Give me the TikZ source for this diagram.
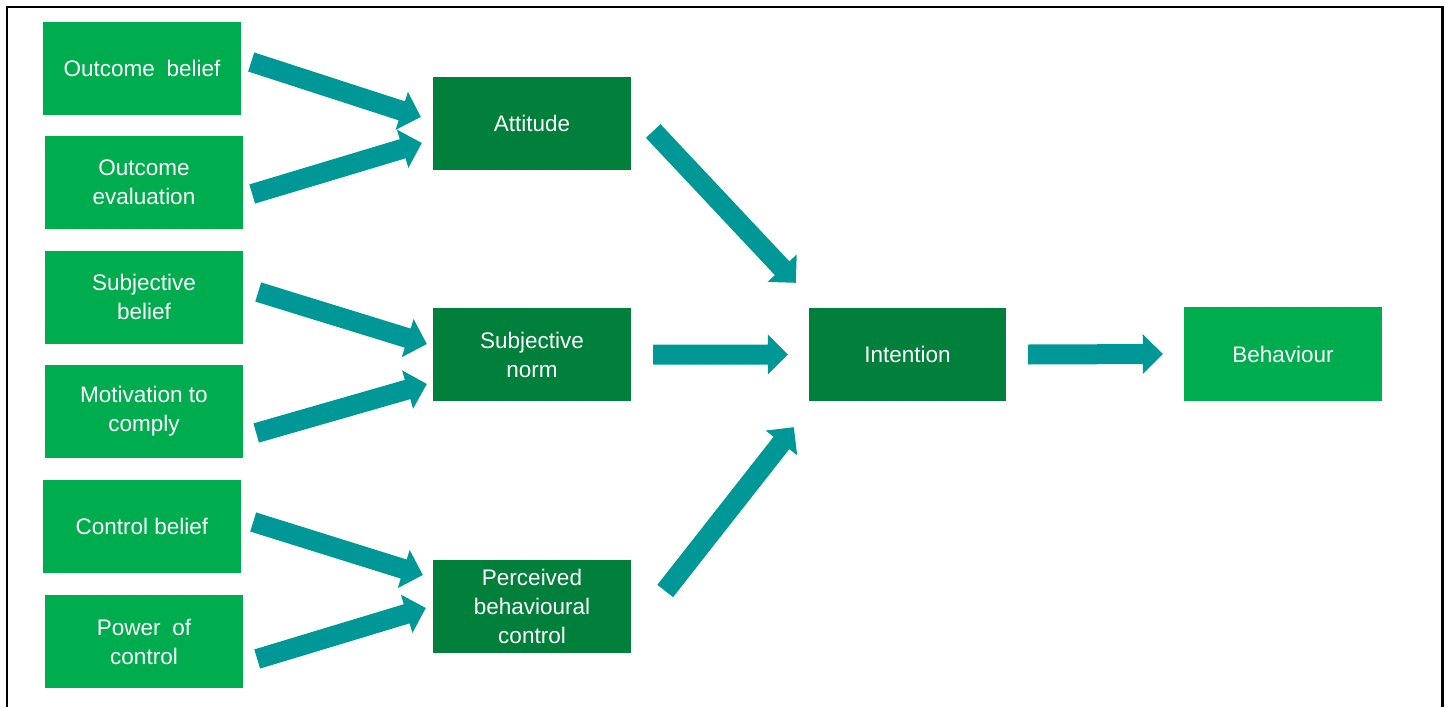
\documentclass[tikz,border=0pt]{standalone}
\usepackage{fontspec}
\setmainfont{Liberation Sans}
\usetikzlibrary{calc}
\definecolor{lightgr}{HTML}{00AD4E}
\definecolor{darkgr}{HTML}{00803A}
\definecolor{teal}{HTML}{009897}
\tikzset{
  box/.style={rectangle, minimum width=198pt, minimum height=93pt, inner sep=0pt,
    align=center, text=white, font=\fontsize{22.5}{29}\selectfont},
  srcbox/.style={box, fill=lightgr},
  midbox/.style={box, fill=darkgr},
  arrowfill/.style={fill=teal}
}
\newcommand{\blockarrow}[2]{%
  \coordinate (bkA) at #1;
  \coordinate (bkT) at #2;
  \coordinate (bkB) at ($(bkT)!20pt!(bkA)$);
  \fill[arrowfill] ($(bkA)!10pt!90:(bkT)$) -- ($(bkB)!10pt!-90:(bkA)$)
    -- ($(bkB)!20pt!-90:(bkA)$) -- (bkT) -- ($(bkB)!20pt!90:(bkA)$)
    -- ($(bkB)!10pt!90:(bkA)$) -- ($(bkA)!10pt!-90:(bkT)$) -- cycle;
}
\begin{document}
\begin{tikzpicture}[x=1pt,y=-1pt]
\useasboundingbox (0,0) rectangle (1450,707);
\draw[line width=2.5pt] (7,707) -- (7,7) -- (1442.5,7) -- (1442.5,707);

\node[srcbox] (ob) at (142,68) {Outcome\hspace{0.25em} belief};
\node[srcbox] (oe) at (144,182.5) {Outcome\\evaluation};
\node[srcbox] (sb) at (144,297) {Subjective\\belief};
\node[srcbox] (mc) at (144,411.5) {Motivation to\\comply};
\node[srcbox] (cb) at (142,526.5) {Control belief};
\node[srcbox] (pc) at (144,641.5) {Power\hspace{0.25em} of\\control};

\node[midbox] (att) at (532,123.5) {Attitude};
\node[midbox] (sn) at (532,354.5) {Subjective\\norm};
\node[midbox] (pbc) at (532,606.5) {Perceived\\behavioural\\control};

\node[midbox, minimum width=197pt] (int) at (907.5,354.5) {Intention};
\node[srcbox, minimum height=94pt] (beh) at (1283,354) {Behaviour};

\blockarrow{([shift={(10,-6)}]ob.east)}{([shift={(-12,-6.5)}]att.west)}
\blockarrow{([shift={(9,11.5)}]oe.east)}{([shift={(-11,19.5)}]att.west)}
\blockarrow{([shift={(15,-5)}]sb.east)}{([shift={(-6,-10.5)}]sn.west)}
\blockarrow{([shift={(13,21.5)}]mc.east)}{([shift={(-6,29.5)}]sn.west)}
\blockarrow{([shift={(12,-4.5)}]cb.east)}{([shift={(-10,-31.5)}]pbc.west)}
\blockarrow{([shift={(14,17.5)}]pc.east)}{([shift={(-7,1.5)}]pbc.west)}
\blockarrow{([shift={(22,7.5)}]att.east)}{([shift={(-13,-25)}]int.north west)}
\blockarrow{([shift={(22,0)}]sn.east)}{([shift={(-21,0)}]int.west)}
\blockarrow{([shift={(34,-15.5)}]pbc.east)}{([shift={(-15,26)}]int.south west)}
\blockarrow{([shift={(22,0)}]int.east)}{([shift={(-21,0)}]beh.west)}
\end{tikzpicture}
\end{document}
